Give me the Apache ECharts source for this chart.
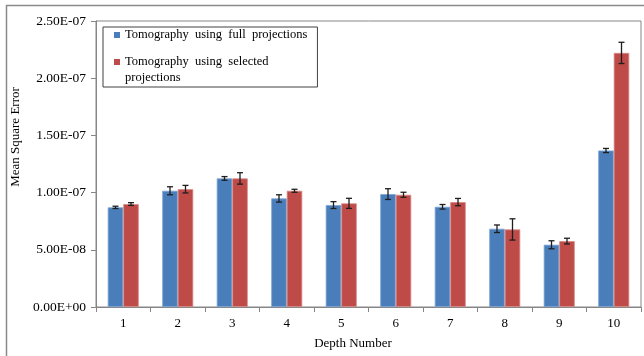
<!DOCTYPE html>
<html>
<head>
<meta charset="utf-8">
<script src="https://cdn.jsdelivr.net/npm/echarts@6/dist/echarts.min.js"></script>
<style>html,body{margin:0;padding:0;background:#fff}#c{width:644px;height:356px}</style>
</head>
<body>
<div id="c"></div>
<script>
const categories = ['1','2','3','4','5','6','7','8','9','10'];
const fullValues = [8.71e-8, 1.016e-7, 1.124e-7, 9.49e-8, 8.91e-8, 9.87e-8, 8.76e-8, 6.84e-8, 5.44e-8, 1.368e-7];
const fullErrors = [1.0e-9, 3.5e-9, 1.6e-9, 3.2e-9, 3.0e-9, 4.7e-9, 2.0e-9, 3.3e-9, 3.5e-9, 1.8e-9];
const selectedValues = [9.0e-8, 1.03e-7, 1.124e-7, 1.016e-7, 9.06e-8, 9.81e-8, 9.17e-8, 6.78e-8, 5.76e-8, 2.221e-7];
const selectedErrors = [1.2e-9, 3.3e-9, 5.0e-9, 1.3e-9, 4.4e-9, 2.2e-9, 3.2e-9, 9.3e-9, 2.5e-9, 9.3e-9];
const yTickLabels = ['0.00E+00','5.00E-08','1.00E-07','1.50E-07','2.00E-07','2.50E-07'];
const seriesNames = ['Tomography  using  full  projections', 'Tomography  using  selected'];
const legendExtraLine = 'projections';

const SERIF = 'Liberation Serif';
const BAR_W = 15.5;
const blue = '#4a7ebb', red = '#be4b48';

function errRender(offset) {
  return function (params, api) {
    const i = api.value(0), v = api.value(1), e = api.value(2);
    const hi = api.coord([i, v + e]);
    const lo = api.coord([i, v - e]);
    const x = hi[0] + offset;
    const cap = 3;
    const st = { stroke: '#1e1e1e', lineWidth: 1.3 };
    return {
      type: 'group',
      children: [
        { type: 'line', shape: { x1: x, y1: hi[1], x2: x, y2: lo[1] }, style: st },
        { type: 'line', shape: { x1: x - cap, y1: hi[1], x2: x + cap, y2: hi[1] }, style: st },
        { type: 'line', shape: { x1: x - cap, y1: lo[1], x2: x + cap, y2: lo[1] }, style: st }
      ]
    };
  };
}

const chart = echarts.init(document.getElementById('c'), null, { renderer: 'canvas' });
chart.setOption({
  animation: false,
  backgroundColor: '#fff',
  grid: { left: 96, top: 21, right: 3, bottom: 49, show: true, borderColor: '#868686', borderWidth: 1, backgroundColor: 'transparent' },
  legend: {
    orient: 'vertical', left: 103, top: 27,
    itemWidth: 6, itemHeight: 6, itemGap: 11,
    padding: [0, 10, 17, 11],
    borderColor: '#404040', borderWidth: 1,
    icon: 'rect',
    selectedMode: false,
    itemStyle: { borderWidth: 0 },
    textStyle: { fontFamily: SERIF, fontSize: 12.5, color: '#000', lineHeight: 16 },
    data: seriesNames
  },
  graphic: [
    { type: 'rect', silent: true, shape: { x: 6.5, y: 5.5, width: 700, height: 400 }, style: { fill: 'none', stroke: '#8a8a8a', lineWidth: 1.5 } },
    { type: 'text', silent: true, x: 125, y: 78, style: { text: legendExtraLine, font: '12.5px "Liberation Serif"', fill: '#000', verticalAlign: 'middle' } }
  ],
  xAxis: {
    type: 'category', data: categories,
    name: 'Depth Number', nameLocation: 'middle', nameGap: 30,
    nameTextStyle: { fontFamily: SERIF, fontSize: 13, color: '#000', padding: [0, 31, 0, 0] },
    axisLine: { lineStyle: { color: '#868686', width: 1 } },
    axisTick: { show: true, length: 5, lineStyle: { color: '#868686' } },
    axisLabel: { fontFamily: SERIF, fontSize: 13, color: '#000', margin: 10 }
  },
  yAxis: {
    type: 'value', min: 0, max: 2.5e-7, interval: 5e-8,
    name: 'Mean Square Error', nameLocation: 'middle', nameGap: 64,
    nameTextStyle: { fontFamily: SERIF, fontSize: 13, color: '#000', padding: [0, 0, 0, 54] },
    axisLine: { show: true, lineStyle: { color: '#868686', width: 1 } },
    axisTick: { show: true, length: 5, lineStyle: { color: '#868686' } },
    splitLine: { show: false },
    axisLabel: {
      fontFamily: SERIF, fontSize: 13.5, color: '#000', margin: 10,
      formatter: function (v) { return yTickLabels[Math.round(v / 5e-8)]; }
    }
  },
  series: [
    { name: seriesNames[0], type: 'bar', data: fullValues, barWidth: BAR_W, barGap: '0%',
      itemStyle: { color: blue, borderColor: '#7aa3d6', borderWidth: 0.8 } },
    { name: seriesNames[1], type: 'bar', data: selectedValues, barWidth: BAR_W, barGap: '0%',
      itemStyle: { color: red, borderColor: '#d88a88', borderWidth: 0.8 } },
    { type: 'custom', renderItem: errRender(-BAR_W / 2), z: 5, silent: true,
      data: fullValues.map((v, i) => [i, v, fullErrors[i]]) },
    { type: 'custom', renderItem: errRender(BAR_W / 2), z: 5, silent: true,
      data: selectedValues.map((v, i) => [i, v, selectedErrors[i]]) }
  ]
});
</script>
</body>
</html>
